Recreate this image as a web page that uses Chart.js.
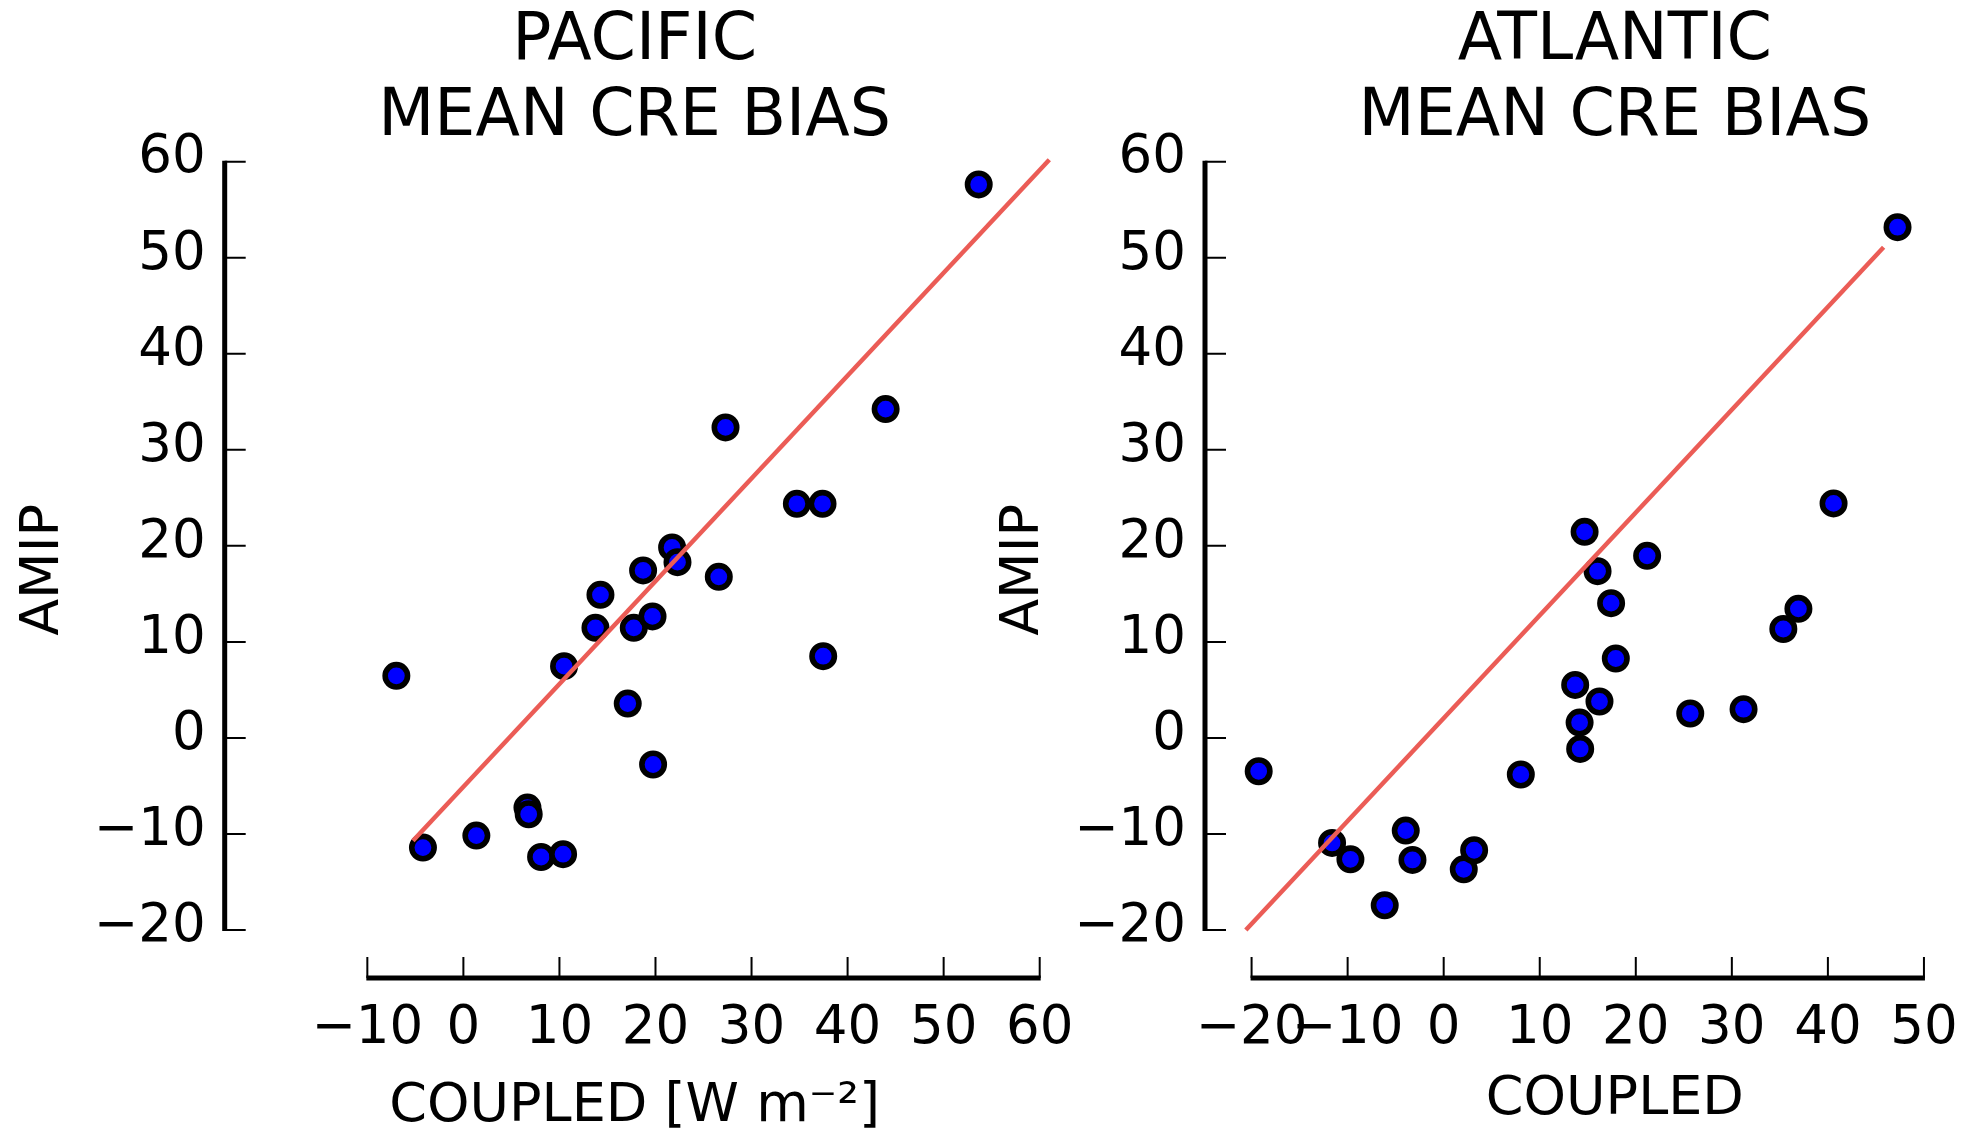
<!DOCTYPE html>
<html>
<head>
<meta charset="utf-8">
<script src="https://cdn.jsdelivr.net/npm/chart.js@4.4.1/dist/chart.umd.min.js"></script>
<style>
  html, body { margin: 0; padding: 0; background: #ffffff; overflow: hidden; width: 1968px; height: 1135px; }
  .box { position: absolute; top: 0; height: 1135px; width: 1100px; }
  #boxL { left: 0px; }
  #boxR { left: 960px; }
</style>
</head>
<body>
<div id="boxL" class="box"><canvas id="cL" width="1100" height="1135"></canvas></div>
<div id="boxR" class="box"><canvas id="cR" width="1100" height="1135"></canvas></div>
<script>
// ---------------- data ----------------
const pacificCoupled = [-6.98, -4.21, 1.35, 6.67, 6.80, 8.09, 10.38, 10.48, 13.75, 14.27, 17.11, 17.74,
                        18.71, 19.69, 19.75, 21.73, 22.29, 26.59, 27.29, 34.72, 37.39, 37.46, 43.96, 53.65];
const pacificAmip    = [6.46, -11.42, -10.17, -7.25, -7.95, -12.40, -12.11, 7.47, 11.46, 14.90, 3.58, 11.46,
                        17.44, 12.65, -2.77, 19.83, 18.30, 16.77, 32.33, 24.38, 24.38, 8.51, 34.24, 57.63];
const pacificFitX = [-5.25, 61.0];
const pacificFitY = [-10.7, 60.2];

const atlanticCoupled = [-19.26, -11.62, -9.71, -6.14, -3.95, -3.25, 2.09, 3.17, 8.03, 13.69, 14.15, 14.21,
                         14.67, 16.02, 16.22, 17.43, 17.92, 21.18, 25.67, 31.22, 35.36, 36.93, 40.59, 47.25];
const atlanticAmip    = [-3.47, -10.94, -12.64, -17.43, -9.65, -12.71, -13.68, -11.70, -3.81, 5.52, 1.60, -1.15,
                         21.46, 17.36, 3.79, 14.03, 8.27, 18.96, 2.54, 2.99, 11.34, 13.44, 24.42, 53.18];
const atlanticFitX = [-20.6, 45.8];
const atlanticFitY = [-20.0, 51.1];

const pacificXTicks  = [-10, 0, 10, 20, 30, 40, 50, 60];
const atlanticXTicks = [-20, -10, 0, 10, 20, 30, 40, 50];
const amipTicks      = [-20, -10, 0, 10, 20, 30, 40, 50, 60];

const pacificTitle  = ['PACIFIC', 'MEAN CRE BIAS'];
const atlanticTitle = ['ATLANTIC', 'MEAN CRE BIAS'];
const pacificXLabel  = 'COUPLED [W m\u207B\u00B2]';
const atlanticXLabel = 'COUPLED';
const yLabel = 'AMIP';

// ---------------- helpers ----------------
const FONT = "'DejaVu Sans', 'Liberation Sans', sans-serif";
const fmt = v => (v < 0 ? '\u2212' + Math.abs(v) : String(v));
const pts = (xs, ys) => xs.map((x, i) => ({ x: x, y: ys[i] }));

const spinePlugin = {
  id: 'spines',
  afterDraw(chart, args, opts) {
    const { ctx, chartArea } = chart;
    const xs = chart.scales.x, ys = chart.scales.y;
    const xt = opts.xTicks, yt = opts.yTicks;
    const sx = chartArea.left, sy = chartArea.bottom;
    const yTop = ys.getPixelForValue(yt[yt.length - 1]);
    const yBot = ys.getPixelForValue(yt[0]);
    const xL = xs.getPixelForValue(xt[0]);
    const xR = xs.getPixelForValue(xt[xt.length - 1]);
    ctx.save();
    ctx.strokeStyle = '#000';
    ctx.lineCap = 'butt';
    ctx.lineWidth = 5;
    ctx.beginPath();
    ctx.moveTo(sx, yTop - 1); ctx.lineTo(sx, yBot + 1);
    ctx.moveTo(xL - 1, sy); ctx.lineTo(xR + 1, sy);
    ctx.stroke();
    ctx.lineWidth = 2;
    ctx.beginPath();
    yt.forEach(v => { const p = ys.getPixelForValue(v); ctx.moveTo(sx, p); ctx.lineTo(sx + 21, p); });
    xt.forEach(v => { const p = xs.getPixelForValue(v); ctx.moveTo(p, sy); ctx.lineTo(p, sy - 21); });
    ctx.stroke();
    ctx.restore();
  }
};

function makeChart(id, cfg) {
  return new Chart(document.getElementById(id), {
    type: 'scatter',
    data: {
      datasets: [
        {
          data: pts(cfg.fitX, cfg.fitY),
          showLine: true,
          borderColor: 'rgb(235, 92, 86)',
          borderWidth: 4.5,
          pointRadius: 0,
          pointHoverRadius: 0,
          clip: false,
          order: 0
        },
        {
          data: pts(cfg.xs, cfg.ys),
          backgroundColor: '#0000ff',
          borderColor: '#000000',
          pointRadius: 11.2,
          pointBorderWidth: 5.6,
          pointHoverRadius: 11.2,
          clip: false,
          order: 1
        }
      ]
    },
    options: {
      responsive: false,
      devicePixelRatio: 1,
      animation: false,
      events: [],
      layout: { padding: { left: 0, right: cfg.padRight, top: 0, bottom: 0 } },
      plugins: {
        legend: { display: false },
        tooltip: { enabled: false },
        title: {
          display: true,
          text: cfg.title,
          fullSize: false,
          color: '#000',
          font: { family: FONT, size: 65, weight: 'normal', lineHeight: 1.16 },
          padding: { top: 4.7, bottom: 6.2 }
        },
        spines: { xTicks: cfg.xTicks, yTicks: amipTicks }
      },
      scales: {
        x: {
          type: 'linear',
          position: 'bottom',
          min: -24.85,
          max: 60.5,
          afterBuildTicks: s => { s.ticks = cfg.xTicks.map(v => ({ value: v })); },
          afterFit: s => { s.height = 157; },
          grid: { display: false },
          border: { display: false },
          ticks: {
            autoSkip: false, maxRotation: 0, minRotation: 0, padding: 11.2,
            color: '#000', font: { family: FONT, size: 53 }, callback: fmt
          },
          title: {
            display: true, text: cfg.xLabel, color: '#000',
            font: { family: FONT, size: 54, lineHeight: 1 },
            padding: { top: 0, bottom: cfg.xTitlePad }
          }
        },
        y: {
          type: 'linear',
          position: 'left',
          min: -25,
          max: 60,
          afterBuildTicks: s => { s.ticks = amipTicks.map(v => ({ value: v })); },
          afterFit: s => { s.width = cfg.yWidth; },
          grid: { display: false },
          border: { display: false },
          ticks: {
            autoSkip: false, padding: 11, labelOffset: -3,
            color: '#000', font: { family: FONT, size: 53 }, callback: fmt
          },
          title: {
            display: true, text: yLabel, color: '#000',
            font: { family: FONT, size: 54, lineHeight: 1 },
            padding: { top: cfg.yTitlePad, bottom: 0 }
          }
        }
      }
    },
    plugins: [spinePlugin]
  });
}

makeChart('cL', {
  xs: pacificCoupled, ys: pacificAmip, fitX: pacificFitX, fitY: pacificFitY,
  xTicks: pacificXTicks, title: pacificTitle, xLabel: pacificXLabel,
  padRight: 55.5, yWidth: 224.7, yTitlePad: 17, xTitlePad: 1
});
makeChart('cR', {
  xs: atlanticCoupled, ys: atlanticAmip, fitX: atlanticFitX, fitY: atlanticFitY,
  xTicks: atlanticXTicks, title: atlanticTitle, xLabel: atlanticXLabel,
  padRight: 35.2, yWidth: 245, yTitlePad: 37, xTitlePad: 8
});
</script>
</body>
</html>
